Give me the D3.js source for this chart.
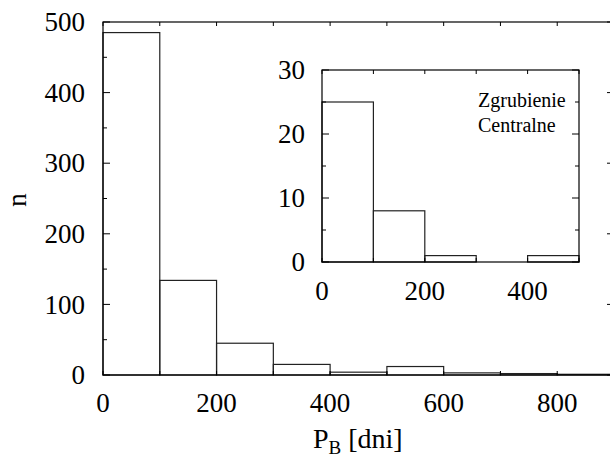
<!DOCTYPE html>
<html>
<head>
<meta charset="utf-8">
<title>P_B histogram</title>
<style>
  body { margin: 0; background: #fff; }
</style>
<script src="https://d3js.org/d3.v7.min.js"></script>
</head>
<body>
<svg id="chart" width="610" height="459" font-family="Liberation Serif, DejaVu Serif, serif"></svg>
<script>
// main histogram: bins of 100 days
var binEdges = [0, 100, 200, 300, 400, 500, 600, 700, 800];
var counts = [485, 134, 45, 15, 4, 12, 3, 2, 1];
var xTicks = [0, 200, 400, 600, 800];
var yTicks = [0, 100, 200, 300, 400, 500];

// inset: bulge (Zgrubienie Centralne)
var insetEdges = [0, 100, 200, 300, 400];
var insetCounts = [25, 8, 1, 0, 1];
var insetXTicks = [0, 200, 400];
var insetYTicks = [0, 10, 20, 30];
var insetLabel = ["Zgrubienie", "Centralne"];

var svg = d3.select("#chart");

function panel(g, o) {
  var x = d3.scaleLinear().domain(o.xd).range([o.left, o.right]);
  var y = d3.scaleLinear().domain(o.yd).range([o.bottom, o.top]);

  g.append("rect")
    .attr("x", o.left).attr("y", o.top)
    .attr("width", o.right - o.left).attr("height", o.bottom - o.top)
    .attr("fill", "#fff");

  // boxes
  g.selectAll("rect.bar").data(o.counts).enter().append("rect")
    .attr("class", "bar")
    .attr("x", (d, i) => x(o.edges[i]))
    .attr("y", d => y(d))
    .attr("width", (d, i) => x(o.edges[i] + o.bw) - x(o.edges[i]))
    .attr("height", d => y(0) - y(d))
    .attr("fill", "none").attr("stroke", "#222").attr("stroke-width", 1.2);

  // ticks (inward, mirrored)
  var xt = d3.range(o.xd[0], o.xd[1] + 1, o.xminor);
  xt.forEach(function(v) {
    var len = 4;
    g.append("line").attr("x1", x(v)).attr("x2", x(v))
      .attr("y1", o.bottom).attr("y2", o.bottom - len).attr("stroke", "#000");
    g.append("line").attr("x1", x(v)).attr("x2", x(v))
      .attr("y1", o.top).attr("y2", o.top + len).attr("stroke", "#000");
  });
  var yt = d3.range(o.yd[0], o.yd[1] + 1, o.yminor);
  yt.forEach(function(v) {
    var len = (v % o.ymajor === 0) ? 7 : 4;
    g.append("line").attr("x1", o.left).attr("x2", o.left + len)
      .attr("y1", y(v)).attr("y2", y(v)).attr("stroke", "#000");
    g.append("line").attr("x1", o.right).attr("x2", o.right - len)
      .attr("y1", y(v)).attr("y2", y(v)).attr("stroke", "#000");
  });

  g.append("rect")
    .attr("x", o.left).attr("y", o.top)
    .attr("width", o.right - o.left).attr("height", o.bottom - o.top)
    .attr("fill", "none").attr("stroke", "#000").attr("stroke-width", 1.2);

  g.selectAll("text.xl").data(o.xTicks).enter().append("text")
    .attr("class", "xl")
    .attr("x", d => x(d)).attr("y", o.bottom + o.xlabOff)
    .attr("text-anchor", "middle").attr("font-size", 27)
    .text(d => d);
  g.selectAll("text.yl").data(o.yTicks).enter().append("text")
    .attr("class", "yl")
    .attr("x", o.left - o.ylabOff).attr("y", d => y(d))
    .attr("dy", "0.34em")
    .attr("text-anchor", "end").attr("font-size", 27)
    .text(d => d);
  return {x: x, y: y};
}

panel(svg.append("g"), {
  xd: [0, 900], yd: [0, 500],
  left: 103, right: 614, top: 22, bottom: 375,
  edges: binEdges, counts: counts, bw: 100,
  xminor: 100, yminor: 50, ymajor: 100,
  xTicks: xTicks, yTicks: yTicks, xlabOff: 37, ylabOff: 18
});

panel(svg.append("g"), {
  xd: [0, 500], yd: [0, 30],
  left: 322, right: 579, top: 70, bottom: 262,
  edges: insetEdges, counts: insetCounts, bw: 100,
  xminor: 100, yminor: 5, ymajor: 10,
  xTicks: insetXTicks, yTicks: insetYTicks, xlabOff: 38, ylabOff: 17
});

svg.selectAll("text.ins").data(insetLabel).enter().append("text")
  .attr("x", 478).attr("y", (d, i) => 107 + i * 25)
  .attr("font-size", 20)
  .text(d => d);

svg.append("text")
  .attr("transform", "translate(26,200) rotate(-90)")
  .attr("text-anchor", "middle").attr("font-size", 27)
  .text("n");

var xl = svg.append("text")
  .attr("x", 313).attr("y", 448).attr("font-size", 28);
xl.append("tspan").text("P");
xl.append("tspan").attr("font-size", 19).attr("dy", 6).text("B");
xl.append("tspan").attr("dy", -6).text(" [dni]");
</script>
</body>
</html>
